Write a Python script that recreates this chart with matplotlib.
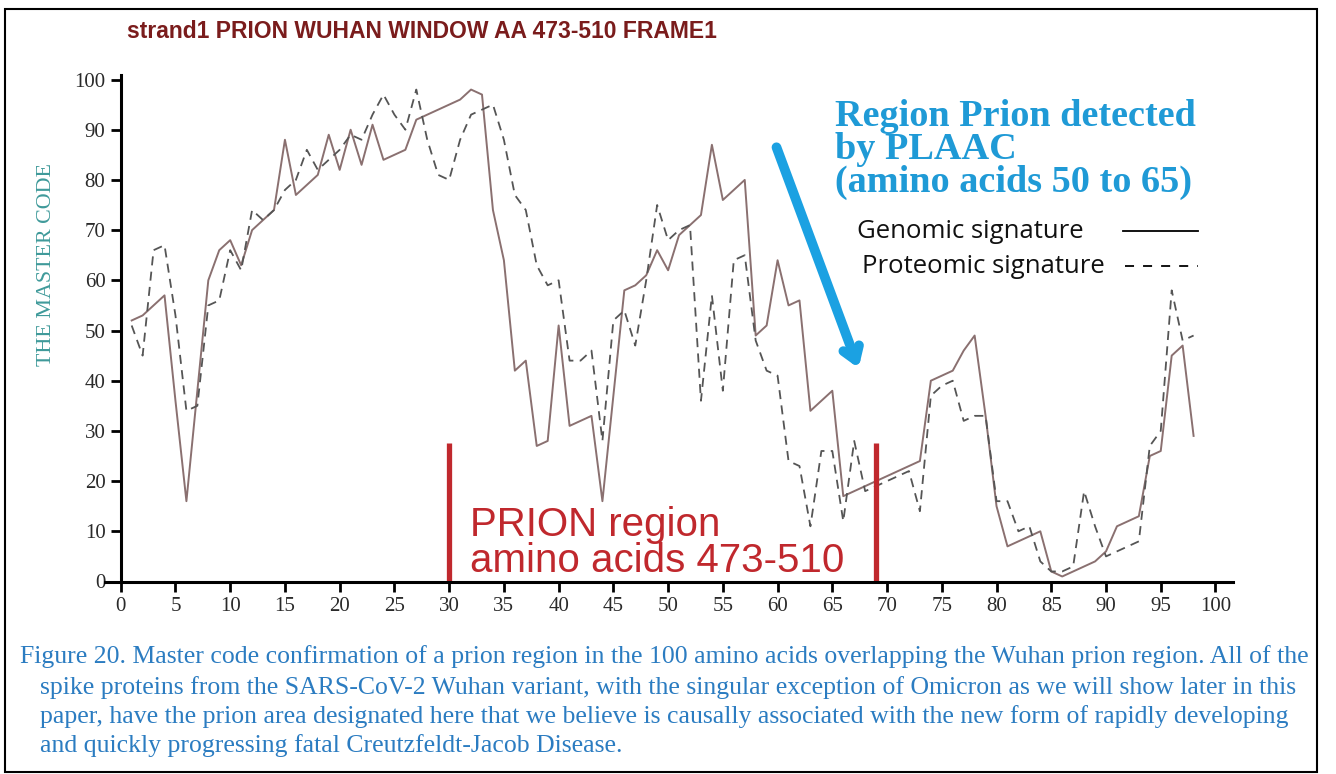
import matplotlib
matplotlib.use("Agg")
import matplotlib.pyplot as plt
from matplotlib.lines import Line2D
from matplotlib.patches import Rectangle

# amino acid position 1..98
positions = list(range(1, 99))
genomic = [52, 53, 55, 57, 36, 16, 38, 60, 66, 68,
           63, 70, 72, 74, 88, 77, 79, 81, 89, 82,
           90, 83, 91, 84, 85, 86, 92, 93, 94, 95,
           96, 98, 97, 74, 64, 42, 44, 27, 28, 51,
           31, 32, 33, 16, 37, 58, 59, 61, 66, 62,
           69, 71, 73, 87, 76, 78, 80, 49, 51, 64,
           55, 56, 34, 36, 38, 17, 18, 19, 20, 21,
           22, 23, 24, 40, 41, 42, 46, 49, 33, 15,
           7, 8, 9, 10, 2, 1, 2, 3, 4, 6,
           11, 12, 13, 25, 26, 45, 47, 29]
proteomic = [51, 45, 66, 67, 53, 34, 35, 55, 56, 66,
             62, 74, 72, 74, 78, 80, 86, 82, 84, 86,
             89, 88, 93, 97, 93, 90, 98, 88, 81, 80,
             88, 93, 94, 95, 88, 77, 74, 63, 59, 60,
             44, 44, 46, 28, 52, 54, 47, 60, 75, 68,
             70, 71, 36, 57, 38, 64, 65, 48, 42, 41,
             24, 23, 11, 26, 26, 12, 28, 18, 19, 20,
             21, 22, 14, 37, 39, 40, 32, 33, 33, 16,
             16, 10, 11, 4, 2, 2, 3, 18, 11, 5,
             6, 7, 8, 27, 30, 58, 48, 49]
prion_bounds = [30, 69]
xticks = list(range(0, 101, 5))
yticks = list(range(0, 101, 10))

W, H = 1336, 774


def px(x, y):
    # pixel position -> figure fraction
    return x / W, 1 - y / H


fig = plt.figure(figsize=(W / 100, H / 100), dpi=100)
fig.patch.set_facecolor("white")

# outer frame
fig.patches.append(Rectangle((5 / W, 2 / H), 1312 / W, 1 - 11 / H, transform=fig.transFigure,
                             fill=False, edgecolor="black", linewidth=1.5))

ax = fig.add_axes([105.4 / W, 1 - 581.5 / H, (1233 - 105.4) / W, (581.5 - 74.5) / H])
ax.set_xlim(-1.4, 101.6)
ax.set_ylim(0, 101)

ax.plot(positions, genomic, color="#8a7070", linewidth=1.4)
ax.plot(positions, proteomic, color="#555555", linewidth=1.3, linestyle=(0, (5, 3.5)))

for xb in prion_bounds:
    ax.plot([xb, xb], [0, 27.5], color="#c0282d", linewidth=3.8, solid_capstyle="butt")

for s in ["top", "right"]:
    ax.spines[s].set_visible(False)
ax.spines["left"].set_position(("data", 0))
ax.spines["left"].set_linewidth(2.2)
ax.spines["bottom"].set_linewidth(2.2)
ax.set_xticks(xticks)
ax.set_yticks(yticks)
ax.tick_params(direction="out", length=7, width=2, labelsize=15, colors="black", pad=4)
for lab in ax.get_xticklabels() + ax.get_yticklabels():
    lab.set_family("Liberation Serif")
    lab.set_color("#2a2a2a")

# red prion annotation
fig.text(*px(470, 536), "PRION region", color="#c0282d", fontsize=29,
         family="Liberation Sans", va="baseline", ha="left")
fig.text(*px(470, 572), "amino acids 473-510", color="#c0282d", fontsize=29,
         family="Liberation Sans", va="baseline", ha="left")

# PLAAC note
for txt, yb in zip(["Region Prion detected", "by PLAAC", "(amino acids 50 to 65)"], [126, 159, 192]):
    fig.text(*px(835, yb), txt, color="#1f9ad6", fontsize=27.5, fontweight="bold",
             family="Liberation Serif", va="baseline", ha="left")

ax.annotate("", xy=(67.4, 42.5), xytext=(59.9, 86.5),
            arrowprops=dict(arrowstyle="->,head_length=0.9,head_width=0.6",
                            color="#1ba1e2", linewidth=7, shrinkA=0, shrinkB=0))

# legend drawn by hand (labels are not right aligned in the original)
fig.text(*px(857, 238), "Genomic signature", color="#111111", fontsize=18.5,
         family="Open Sans", va="baseline", ha="left")
fig.text(*px(862, 273), "Proteomic signature", color="#111111", fontsize=18.5,
         family="Open Sans", va="baseline", ha="left")
fig.lines.append(Line2D([1123 / W, 1198 / W], [1 - 231 / H, 1 - 231 / H], transform=fig.transFigure,
                        color="black", linewidth=1.3))
fig.lines.append(Line2D([1125 / W, 1198 / W], [1 - 266 / H, 1 - 266 / H], transform=fig.transFigure,
                        color="black", linewidth=1.3, linestyle=(0, (5, 5))))

fig.text(*px(422, 32), "strand1 PRION WUHAN WINDOW AA 473-510 FRAME1",
         color="#7a1c1c", fontsize=16.5, fontweight="bold", family="Liberation Sans",
         ha="center", va="center")

fig.text(*px(47, 265), "THE MASTER CODE", rotation=90, color="#3f9a9a",
         fontsize=15.8, family="Liberation Serif", ha="center", va="center")

caption = ["Figure 20. Master code confirmation of a prion region in the 100 amino acids overlapping the Wuhan prion region. All of the",
           "spike proteins from the SARS-CoV-2 Wuhan variant, with the singular exception of Omicron as we will show later in this",
           "paper, have the prion area designated here that we believe is causally associated with the new form of rapidly developing",
           "and quickly progressing fatal Creutzfeldt-Jacob Disease."]
cap_y = [657, 688, 717, 746]
for i, line in enumerate(caption):
    fig.text(*px(20 if i == 0 else 40, cap_y[i]), line, color="#2b7cc1",
             fontsize=18.5, family="Liberation Serif", ha="left", va="center")

fig.savefig("out.png", dpi=100, facecolor="white")
